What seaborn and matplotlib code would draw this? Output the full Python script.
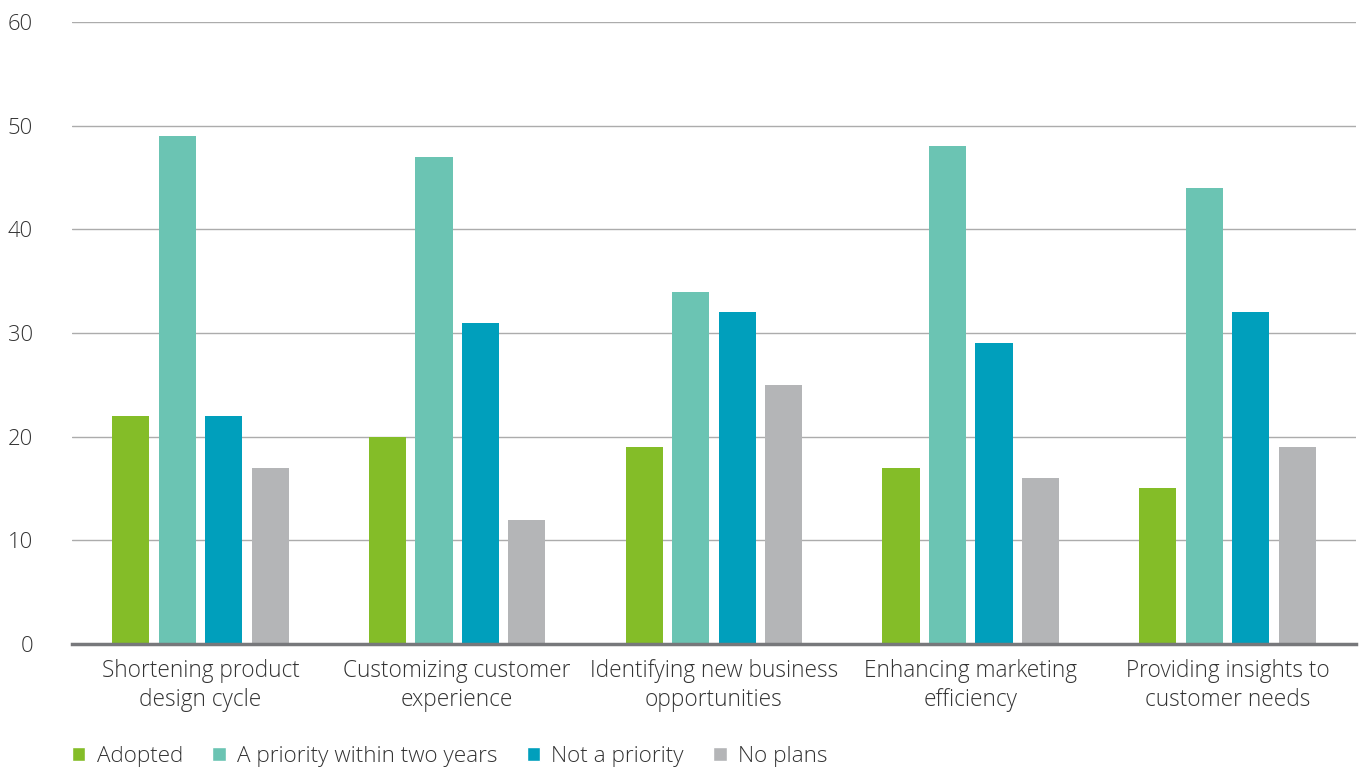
import numpy as np
import pandas as pd
import matplotlib
matplotlib.use('Agg')
import matplotlib.pyplot as plt
import seaborn as sns
from matplotlib.patches import Patch

# data
categories = ['Shortening product\ndesign cycle', 'Customizing customer\nexperience',
              'Identifying new business\nopportunities', 'Enhancing marketing\nefficiency',
              'Providing insights to\ncustomer needs']
series = ['Adopted', 'A priority within two years', 'Not a priority', 'No plans']
adopted = [22, 20, 19, 17, 15]
priority_two_years = [49, 47, 34, 48, 44]
not_priority = [22, 31, 32, 29, 32]
no_plans = [17, 12, 25, 16, 19]
colors = ['#84BD28', '#6BC4B3', '#009FBC', '#B4B5B7']

df = pd.DataFrame({
    'category': categories * 4,
    'status': [s for s in series for _ in categories],
    'value': adopted + priority_two_years + not_priority + no_plans,
})

sns.set_style('white')
plt.rcParams['font.family'] = ['Open Sans', 'DejaVu Sans']
plt.rcParams['font.weight'] = 'light'

fig = plt.figure(figsize=(13.61, 7.67), dpi=100)
ax = fig.add_axes([0.0529, 0.1604, 0.9434, 0.8109])

sns.barplot(data=df, x='category', y='value', hue='status', hue_order=series,
            palette=colors, width=0.724, gap=0.2, ax=ax, legend=False,
            saturation=1, linewidth=0)

ax.set_ylim(0, 60)
ax.set_xlim(-0.5, 4.5)
ax.set_yticks([0, 10, 20, 30, 40, 50, 60])
ax.yaxis.grid(True, color='#ACACAC', linewidth=1)
ax.set_axisbelow(True)
for s in ['top', 'right', 'left']:
    ax.spines[s].set_visible(False)
ax.spines['bottom'].set_color('#77787B')
ax.spines['bottom'].set_linewidth(2.5)
ax.spines['bottom'].set_zorder(5)
ax.tick_params(axis='y', length=0, pad=28, labelsize=15.8, labelcolor='#333333')
ax.tick_params(axis='x', length=0, pad=11, labelsize=16.3, labelcolor='#333333')
for t in ax.get_xticklabels():
    t.set_linespacing(1.28)
ax.set_xlabel('')
ax.set_ylabel('')

handles = [Patch(facecolor=c, label=s) for c, s in zip(colors, series)]
fig.legend(handles=handles, loc='lower left', bbox_to_anchor=(0.038, -0.026), ncol=4,
           frameon=False, fontsize=16.2, handlelength=0.6, handleheight=0.6,
           handletextpad=0.5, columnspacing=1.3, labelcolor='#333333')

fig.savefig('out.png', dpi=100)
